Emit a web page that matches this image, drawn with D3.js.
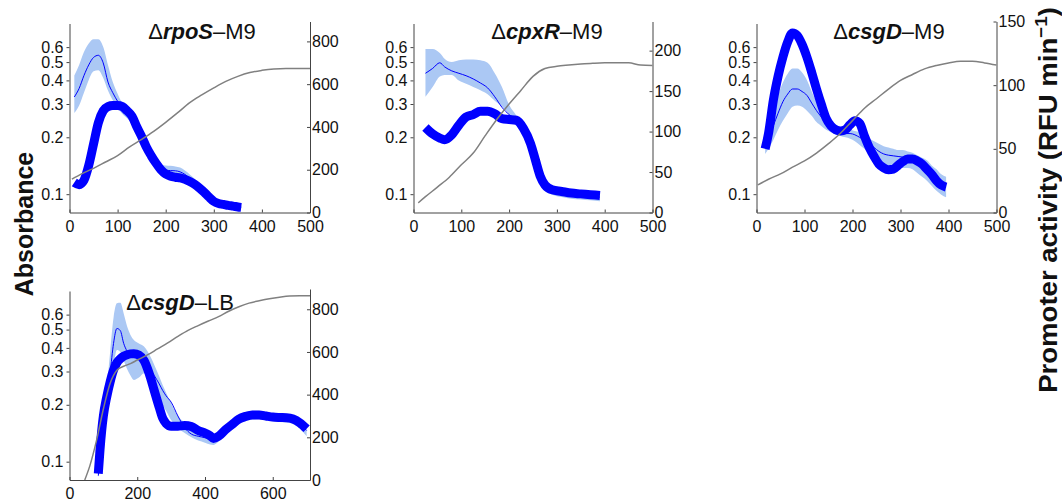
<!DOCTYPE html>
<html>
<head>
<meta charset="utf-8">
<script src="https://cdn.jsdelivr.net/npm/d3@7"></script>
<style>
  body { margin: 0; background: #fff; }
  text { font-family: "Liberation Sans", Arial, sans-serif; fill: #111; }
</style>
</head>
<body>
<svg id="figura"></svg>
<script>
// ---- datos ----
// tiempo (min) en eje x, actividad del promotor (RFU/min) en eje derecho,
// absorbancia (log) en eje izquierdo

// panel ΔrpoS-M9
const tiempoRpoS = [10,20,30,40,50,60,70,80,90,100,110,120,130,140,150,160,170,180,190,200,210,220,230,240,250,260,270,280,290,300,310,320,330,340,350,357];
const gruesaRpoS = [140,130,150,220,320,420,475,495,500,500,495,475,450,400,355,305,265,230,200,180,170,165,162,155,145,132,115,95,72,52,42,38,33,30,26,24];
const finaRpoS = [540,580,640,690,725,735,700,610,560,520,485,460,435,395,350,300,255,225,205,198,196,195,190,178,160,140,118,95,75,57,45,40,35,30,27,25];
const bandaBajaRpoS = [465,500,560,620,660,665,630,570,525,490,460,440,415,378,335,285,240,210,190,180,175,175,172,160,145,125,105,85,62,45,37,32,28,24,21,20];
const bandaAltaRpoS = [640,690,750,790,810,810,775,690,610,555,510,480,455,412,365,315,270,240,225,220,218,215,210,196,178,158,135,110,88,68,55,48,42,37,33,31];
const tiempoGrisRpoS = [5,25,50,75,100,125,150,175,200,225,250,275,300,325,350,375,400,425,450,475,500];
const grisRpoS = [0.12,0.128,0.137,0.148,0.16,0.178,0.195,0.215,0.24,0.27,0.305,0.335,0.365,0.395,0.42,0.44,0.452,0.46,0.463,0.463,0.463];

// panel ΔcpxR-M9
const tiempoCpxR = [25,40,55,65,80,95,110,125,140,155,170,185,200,215,230,245,255,265,275,290,310,330,350,370,390];
const gruesaCpxR = [105,97,92,90,96,108,118,121,125,125,122,116,115,114,104,85,65,45,34,28,26,24,23,22,21];
const finaCpxR = [172,178,185,180,175,172,169,165,160,154,143,130,121,115,103,83,63,43,31,26,24,22,21,20,19];
const bandaBajaCpxR = [143,155,168,170,170,163,159,155,151,146,138,131,121,110,99,79,59,39,27,22,19,17,16,15,14];
const bandaAltaCpxR = [202,202,197,190,186,188,189,189,188,185,172,155,133,120,108,88,68,48,35,30,28,26,24,23,22];
const tiempoGrisCpxR = [10,25,50,75,100,125,150,175,200,225,250,275,300,325,350,375,400,425,450,475,500];
const grisCpxR = [0.09,0.097,0.109,0.123,0.143,0.165,0.204,0.25,0.30,0.355,0.42,0.462,0.475,0.482,0.488,0.493,0.496,0.496,0.496,0.482,0.48];

// panel ΔcsgD-M9
const tiempoCsgD = [18,25,35,45,55,65,75,85,95,105,115,125,135,145,155,165,175,185,195,205,215,225,235,245,255,265,275,285,295,305,315,325,335,345,355,365,375,385,395];
const gruesaCsgD = [50,62,88,107,122,134,141,139,132,122,110,97,85,74,68,65,64,65,69,72,70,60,51,44,38,35,33.5,34,37,40,42,42,40.5,38,34,30,25,21.5,20];
const finaCsgD = [52,58,68,78,87,93,97,97,95,92,86,80,75,70,67,65,63,62,62,61,59,57,54,51,48,46,45,44.5,44,43.5,43,42,40,37,34,30,26,22,20];
const bandaBajaCsgD = [46,50,57,65,72,78,83,84,83,80,76,71,68,65,63,61,60,59,58,56,53,50,47,44,41,38,36,35,35,35,35,34,31,28,25,21,17,14,12];
const bandaAltaCsgD = [57,66,80,92,102,109,113,113,110,104,95,87,81,76,72,69,67,65,65,64,63,61,58,56,54,52,51,50,49,49,48,47,45,43,41,37,34,30,28];
const tiempoGrisCsgD = [3,25,50,75,100,125,150,175,200,225,250,275,300,325,350,375,400,425,450,475,500];
const grisCsgD = [0.112,0.12,0.128,0.139,0.15,0.165,0.185,0.21,0.245,0.285,0.32,0.36,0.40,0.43,0.46,0.48,0.495,0.505,0.505,0.495,0.482];

// panel ΔcsgD-LB
const tiempoCsgDLB = [85,90,95,100,110,120,130,140,150,160,170,180,190,205,220,235,250,265,275,285,300,320,340,360,380,400,415,425,440,460,480,500,520,540,560,580,600,620,640,660,680,700];
const gruesaCsgDLB = [30,140,230,300,390,460,515,550,568,580,587,591,592,585,560,500,420,340,290,265,252,252,255,250,232,220,207,195,205,235,260,285,298,305,305,300,295,293,292,286,268,240];
const finaCsgDLB = [20,100,180,240,360,500,640,710,700,640,605,595,590,578,560,530,490,450,420,395,365,300,245,215,205,198,190,185,200,232,258,282,296,302,303,298,293,290,290,283,262,232];
const bandaBajaCsgDLB = [10,80,150,200,300,400,530,609,600,560,520,490,469,480,500,470,420,380,350,325,281,245,220,200,185,175,166,164,180,215,240,265,275,283,285,280,275,272,270,262,240,205];
const bandaAltaCsgDLB = [40,130,215,285,430,600,760,828,830,780,720,680,656,640,625,590,540,485,445,410,360,300,270,245,230,222,218,212,225,255,280,305,320,325,325,318,313,310,310,303,287,262];
const tiempoGrisCsgDLB = [45,60,80,100,120,140,160,180,200,230,260,290,320,350,380,410,440,470,500,530,560,590,620,650,680,710];
const grisCsgDLB = [0.08,0.095,0.13,0.19,0.26,0.305,0.32,0.33,0.345,0.367,0.395,0.425,0.46,0.495,0.525,0.555,0.585,0.625,0.66,0.69,0.71,0.728,0.742,0.752,0.754,0.754];

// etiquetas de ejes
const ticksAbs = [0.1, 0.2, 0.3, 0.4, 0.5, 0.6];
const ticksTiempo500 = [0, 100, 200, 300, 400, 500];
const ticksTiempoLB = [0, 200, 400, 600];
const ticksRFU800 = [0, 200, 400, 600, 800];
const ticksRFU200 = [0, 50, 100, 150, 200];
const ticksRFU150 = [0, 50, 100, 150];

const WIDTH = 1062, HEIGHT = 503;

const svg = d3.select("#figura")
  .attr("width", WIDTH)
  .attr("height", HEIGHT);

// configuracion de cada panel (posicion y datos)
const paneles = [
  { gen: "rpoS", medio: "M9", x0: 69.5, x1: 310, yb: 212.5, xMax: 500, rMax: 893,
    cx: 202, ty: 39, xTicks: ticksTiempo500, rTicks: ticksRFU800,
    t: tiempoRpoS, gruesa: gruesaRpoS, fina: finaRpoS, lo: bandaBajaRpoS, hi: bandaAltaRpoS,
    tg: tiempoGrisRpoS, gris: grisRpoS },
  { gen: "cpxR", medio: "M9", x0: 413.5, x1: 652.5, yb: 212.5, xMax: 500, rMax: 236,
    cx: 547, ty: 39, xTicks: ticksTiempo500, rTicks: ticksRFU200,
    t: tiempoCpxR, gruesa: gruesaCpxR, fina: finaCpxR, lo: bandaBajaCpxR, hi: bandaAltaCpxR,
    tg: tiempoGrisCpxR, gris: grisCpxR },
  { gen: "csgD", medio: "M9", x0: 756.5, x1: 996.5, yb: 212.5, xMax: 500, rMax: 150,
    cx: 889, ty: 39, xTicks: ticksTiempo500, rTicks: ticksRFU150,
    t: tiempoCsgD, gruesa: gruesaCsgD, fina: finaCsgD, lo: bandaBajaCsgD, hi: bandaAltaCsgD,
    tg: tiempoGrisCsgD, gris: grisCsgD },
  { gen: "csgD", medio: "LB", x0: 69.5, x1: 310, yb: 480, xMax: 710, rMax: 895,
    cx: 180, ty: 310, xTicks: ticksTiempoLB, rTicks: ticksRFU800,
    t: tiempoCsgDLB, gruesa: gruesaCsgDLB, fina: finaCsgDLB, lo: bandaBajaCsgDLB, hi: bandaAltaCsgDLB,
    tg: tiempoGrisCsgDLB, gris: grisCsgDLB }
];

const COLOR_AZUL = "#0000ff",
  COLOR_BANDA = "#abc8f4",
  COLOR_GRIS = "#808080",
  COLOR_EJE = "#444";

paneles.forEach((p, i) => {
  const escalaX = d3.scaleLinear().domain([0, p.xMax]).range([p.x0, p.x1]);
  const escalaAbs = d3.scaleLog().domain([0.08, 0.8]).range([p.yb, p.yb - 189]);
  const escalaRFU = d3.scaleLinear().domain([0, p.rMax]).range([p.yb, p.yb - 191]);

  svg.append("clipPath")
    .attr("id", "clip" + i)
    .append("rect")
    .attr("x", p.x0)
    .attr("y", p.yb - 200)
    .attr("width", p.x1 - p.x0)
    .attr("height", 200);

  const g = svg.append("g");
  const marcas = g.append("g").attr("clip-path", `url(#clip${i})`);

  // banda de error
  const area = d3.area()
    .x((d, j) => escalaX(p.t[j]))
    .y0((d, j) => escalaRFU(p.lo[j]))
    .y1((d, j) => escalaRFU(p.hi[j]))
    .curve(d3.curveMonotoneX);

  marcas.append("path")
    .datum(p.t)
    .attr("d", area)
    .attr("fill", COLOR_BANDA);

  const lineaRFU = (valores) => d3.line()
    .x((d, j) => escalaX(p.t[j]))
    .y(d => escalaRFU(d))
    .curve(d3.curveMonotoneX)(valores);

  // linea fina (media)
  marcas.append("path")
    .attr("d", lineaRFU(p.fina))
    .attr("fill", "none")
    .attr("stroke", COLOR_AZUL)
    .attr("stroke-width", 1);

  // linea gruesa
  marcas.append("path")
    .attr("d", lineaRFU(p.gruesa))
    .attr("fill", "none")
    .attr("stroke", COLOR_AZUL)
    .attr("stroke-width", 9)
    .attr("stroke-linejoin", "round");

  // absorbancia (gris)
  const lineaGris = d3.line()
    .x((d, j) => escalaX(p.tg[j]))
    .y(d => escalaAbs(d))
    .curve(d3.curveMonotoneX);

  marcas.append("path")
    .attr("d", lineaGris(p.gris))
    .attr("fill", "none")
    .attr("stroke", COLOR_GRIS)
    .attr("stroke-width", 1.5);

  // ejes
  const ejeX = g.append("g")
    .attr("transform", `translate(0 ${p.yb})`)
    .call(d3.axisBottom(escalaX).tickValues(p.xTicks)
      .tickSizeInner(-3).tickSizeOuter(0).tickPadding(8));

  const ejeIzq = g.append("g")
    .attr("transform", `translate(${p.x0} 0)`)
    .call(d3.axisLeft(escalaAbs).tickValues(ticksAbs)
      .tickFormat(d3.format(".1f"))
      .tickSizeInner(3).tickSizeOuter(0).tickPadding(3));

  const ejeDer = g.append("g")
    .attr("transform", `translate(${p.x1} 0)`)
    .call(d3.axisRight(escalaRFU).tickValues(p.rTicks)
      .tickSizeInner(-3).tickSizeOuter(0).tickPadding(2));

  [ejeX, ejeIzq, ejeDer].forEach(eje => {
    eje.select(".domain").attr("stroke", COLOR_EJE);
    eje.selectAll(".tick line").attr("stroke", COLOR_EJE);
    eje.selectAll(".tick text")
      .attr("font-size", 16)
      .attr("font-family", "Liberation Sans, Arial, sans-serif")
      .attr("fill", "#111");
  });

  // titulo
  const titulo = g.append("text")
    .attr("x", p.cx)
    .attr("y", p.ty)
    .attr("text-anchor", "middle")
    .attr("font-size", 22);
  titulo.append("tspan").text("Δ");
  titulo.append("tspan").attr("font-weight", "bold").attr("font-style", "italic").text(p.gen);
  titulo.append("tspan").text("–" + p.medio);
});

// titulos de ejes comunes
svg.append("text")
  .attr("transform", "translate(33 224) rotate(-90)")
  .attr("text-anchor", "middle")
  .attr("font-size", 25)
  .attr("font-weight", "bold")
  .text("Absorbance");

const tituloDer = svg.append("text")
  .attr("text-anchor", "middle")
  .attr("font-size", 25)
  .attr("font-weight", "bold");
tituloDer.append("tspan").text("Promoter activity (RFU min");
tituloDer.append("tspan").attr("font-size", 17).attr("dy", -10).text("−1");
tituloDer.append("tspan").attr("dy", 10).text(")");

// el titulo original esta algo estirado a lo largo: se ajusta a su largo
const largoDer = tituloDer.node().getBBox().width;
tituloDer.attr("transform", `translate(1057 200) rotate(-90) scale(${386 / largoDer} 1)`);
</script>
</body>
</html>
